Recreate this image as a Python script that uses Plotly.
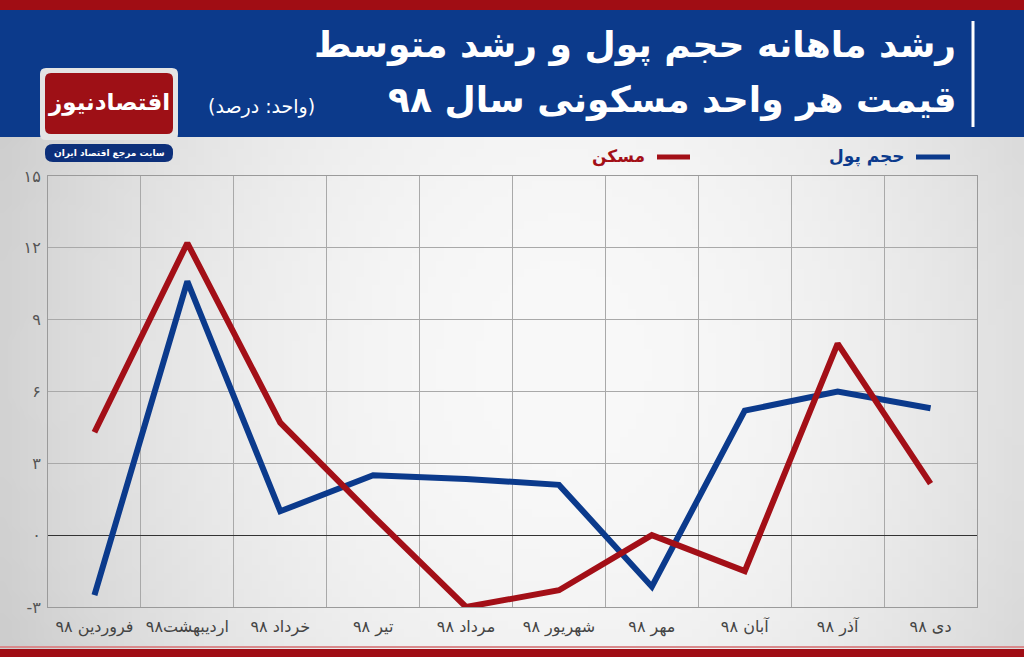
import plotly.graph_objects as go
import base64, zlib, struct

# ---------------- data ----------------
months = ["فروردین ۹۸", "اردیبهشت۹۸", "خرداد ۹۸", "تیر ۹۸", "مرداد ۹۸",
          "شهریور ۹۸", "مهر ۹۸", "آبان ۹۸", "آذر ۹۸", "دی ۹۸"]
money_growth = [-2.5, 10.6, 1.0, 2.5, 2.35, 2.1, -2.15, 5.2, 6.0, 5.3]      # حجم پول
housing_growth = [4.3, 12.2, 4.7, 0.8, -3.0, -2.3, 0.0, -1.5, 8.0, 2.15]   # مسکن
series_names = ["حجم پول", "مسکن"]
ytick_vals = [-3, 0, 3, 6, 9, 12, 15]
ytick_text = ["-۳", "۰", "۳", "۶", "۹", "۱۲", "۱۵"]
title_line1 = "رشد ماهانه حجم پول و رشد متوسط"
title_line2 = "قیمت هر واحد مسکونی سال ۹۸"
unit_text = "(واحد: درصد)"
logo_text = "اقتصادنیوز"
logo_sub = "سایت مرجع اقتصاد ایران"

# ---------------- style ----------------
BLUE = "#0b3a8c"
RED = "#a30f17"
HEADER_BLUE = "#0c3a8b"
STRIP_RED = "#a00d14"
FONT = "DejaVu Sans"
W, H = 1024, 657
ML, MR, MT, MB = 48, 47, 176, 50
PW, PH = W - ML - MR, H - MT - MB


def fx(px):
    return (px - ML) / PW


def fy(py):
    return (H - MB - py) / PH


def png_uri(w, h, fn):
    raw = b"".join(b"\x00" + bytes(v for x in range(w) for v in [fn(x, y)] * 3) for y in range(h))
    def chunk(t, d):
        c = struct.pack(">I", len(d)) + t + d
        return c + struct.pack(">I", zlib.crc32(t + d) & 0xffffffff)
    png = b"\x89PNG\r\n\x1a\n" + chunk(b"IHDR", struct.pack(">IIBBBBB", w, h, 8, 2, 0, 0, 0)) \
        + chunk(b"IDAT", zlib.compress(raw)) + chunk(b"IEND", b"")
    return "data:image/png;base64," + base64.b64encode(png).decode()


def bg(x, y):
    u = (x / 127.0 - 0.55) / 0.55
    v = (y / 63.0 - 0.45) / 0.8
    d = u * u + v * v * 0.35
    return max(205, min(250, int(249 - 38 * d)))


fig = go.Figure()
fig.add_trace(go.Scatter(x=months, y=money_growth, mode="lines", name=series_names[0],
                         line=dict(color=BLUE, width=6), hoverinfo="skip"))
fig.add_trace(go.Scatter(x=months, y=housing_growth, mode="lines", name=series_names[1],
                         line=dict(color=RED, width=6), hoverinfo="skip"))

shapes = []
shapes.append(dict(type="rect", xref="paper", yref="paper", x0=fx(0), x1=fx(W), y0=fy(137), y1=fy(8),
                   fillcolor=HEADER_BLUE, line_width=0, layer="below"))
shapes.append(dict(type="rect", xref="paper", yref="paper", x0=fx(0), x1=fx(W), y0=fy(10), y1=fy(0),
                   fillcolor=STRIP_RED, line_width=0, layer="below"))
shapes.append(dict(type="rect", xref="paper", yref="paper", x0=fx(0), x1=fx(W), y0=fy(H), y1=fy(649),
                   fillcolor=STRIP_RED, line_width=0, layer="below"))
shapes.append(dict(type="line", xref="paper", yref="paper", x0=fx(0), x1=fx(W), y0=fy(647), y1=fy(647),
                   line=dict(color="#d98a8c", width=2), layer="below"))
shapes.append(dict(type="line", xref="paper", yref="paper", x0=fx(973), x1=fx(973), y0=fy(21), y1=fy(127),
                   line=dict(color="white", width=3)))


def rrect(x0, y0, x1, y1, r, color):
    p = (f"M {fx(x0 + r)} {fy(y0)} L {fx(x1 - r)} {fy(y0)} Q {fx(x1)} {fy(y0)} {fx(x1)} {fy(y0 + r)} "
         f"L {fx(x1)} {fy(y1 - r)} Q {fx(x1)} {fy(y1)} {fx(x1 - r)} {fy(y1)} "
         f"L {fx(x0 + r)} {fy(y1)} Q {fx(x0)} {fy(y1)} {fx(x0)} {fy(y1 - r)} "
         f"L {fx(x0)} {fy(y0 + r)} Q {fx(x0)} {fy(y0)} {fx(x0 + r)} {fy(y0)} Z")
    return dict(type="path", xref="paper", yref="paper", path=p, fillcolor=color, line_width=0)


shapes.append(rrect(40, 68, 178, 140, 6, "#e4e4e4"))
shapes.append(rrect(45, 73, 173, 134, 6, "#9e1016"))
shapes.append(rrect(45, 144, 173, 162, 8, "#0c2f7a"))

shapes.append(dict(type="line", xref="paper", yref="paper", x0=fx(916), x1=fx(950), y0=fy(157), y1=fy(157),
                   line=dict(color=BLUE, width=5)))
shapes.append(dict(type="line", xref="paper", yref="paper", x0=fx(657), x1=fx(690), y0=fy(157), y1=fy(157),
                   line=dict(color=RED, width=5)))

annotations = [
    dict(text=f"<b>{title_line1}</b>", x=fx(958), y=fy(45), xanchor="right", yanchor="middle",
         font=dict(family=FONT, size=36, color="white")),
    dict(text=f"<b>{title_line2}</b>", x=fx(958), y=fy(100), xanchor="right", yanchor="middle",
         font=dict(family=FONT, size=36, color="white")),
    dict(text=unit_text, x=fx(261), y=fy(106), xanchor="center", yanchor="middle",
         font=dict(family=FONT, size=19, color="white")),
    dict(text=f"<b>{logo_text}</b>", x=fx(109), y=fy(103), xanchor="center", yanchor="middle",
         font=dict(family=FONT, size=23, color="white")),
    dict(text=f"<b>{logo_sub}</b>", x=fx(109), y=fy(153), xanchor="center", yanchor="middle",
         font=dict(family=FONT, size=9, color="white")),
    dict(text=f"<b>{series_names[0]}</b>", x=fx(907), y=fy(157), xanchor="right", yanchor="middle",
         font=dict(family=FONT, size=17, color=BLUE)),
    dict(text=f"<b>{series_names[1]}</b>", x=fx(647), y=fy(157), xanchor="right", yanchor="middle",
         font=dict(family=FONT, size=17, color=RED)),
]
for a in annotations:
    a.update(xref="paper", yref="paper", showarrow=False)

fig.update_layout(
    width=W, height=H,
    margin=dict(l=ML, r=MR, t=MT, b=MB, pad=0, autoexpand=False),
    paper_bgcolor="#e6e6e6",
    plot_bgcolor="rgba(0,0,0,0)",
    showlegend=False,
    shapes=shapes,
    annotations=annotations,
    images=[dict(source=png_uri(128, 64, bg), xref="paper", yref="paper",
                 x=fx(0), y=fy(137), sizex=fx(W) - fx(0), sizey=fy(137) - fy(649),
                 xanchor="left", yanchor="top", sizing="stretch", layer="below")],
    xaxis=dict(type="category", range=[-0.5, len(months) - 0.5], tickson="boundaries",
               showgrid=True, gridcolor="#a9a9a9", gridwidth=1, ticks="", tickangle=0,
               automargin=False,
               showline=True, linecolor="#9a9a9a", mirror=True, ticklabelstandoff=5,
               tickfont=dict(family=FONT, size=16, color="#444444"), fixedrange=True),
    yaxis=dict(range=[-3, 15], tickvals=ytick_vals, ticktext=ytick_text, automargin=False,
               showgrid=True, gridcolor="#a9a9a9", gridwidth=1,
               zeroline=True, zerolinecolor="#333333", zerolinewidth=1,
               showline=True, linecolor="#9a9a9a", mirror=True, ticks="", ticklabelstandoff=3,
               tickfont=dict(family=FONT, size=16, color="#555555"), fixedrange=True),
)

fig.write_html("out.html", config={"displayModeBar": False},
               post_script="document.body.style.margin='0';document.body.style.overflow='hidden';")
